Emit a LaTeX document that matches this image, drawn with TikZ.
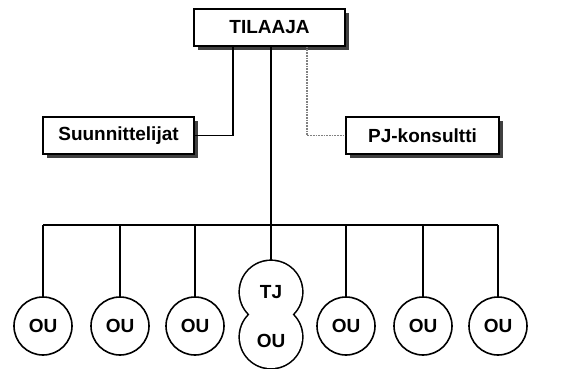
\documentclass[tikz,border=0pt]{standalone}
\usepackage{fontspec}
\setmainfont{Liberation Sans}
\usetikzlibrary{shadows}

\begin{document}
\begin{tikzpicture}[x=1pt,y=-1pt]
\tikzstyle{orgbox} = [rectangle, draw, line width = 1.6pt, fill = white, minimum width = 151pt, minimum height = 37pt, inner sep = 0pt, font = \fontsize{19}{22}\selectfont\bfseries, drop shadow = {shadow xshift = 4pt, shadow yshift = -4pt, fill = black!75, opacity = 1}]
\tikzstyle{ou} = [circle, draw, line width = 1.6pt, fill = white, minimum size = 58pt, inner sep = 0pt, font = \fontsize{19}{22}\selectfont\bfseries]
\tikzstyle{tjtext} = [inner sep = 0pt, font = \fontsize{19}{22}\selectfont\bfseries]
\tikzset{link/.style = {line width = 1.6pt}, loose/.style = {densely dotted, black!50, line width = 1.7pt}}
\useasboundingbox (0,0) rectangle (570,369);

\node [orgbox] (tilaaja) at (269.5,27.5) {TILAAJA};
\node [orgbox] (suunn) at (118.5,135.5) {Suunnittelijat};
\node [orgbox, minimum width = 153pt] (pjkons) at (422.5,135.5) {PJ-konsultti};

% TJ and OU as one blob
\coordinate (tjc) at (271,292);
\coordinate (tjouc) at (271,337);
\coordinate (tjtop) at (271,261);
\draw [line width = 3.2pt] (tjc) circle (31) (tjouc) circle (31);
\fill [white] (tjc) circle (31) (tjouc) circle (31);
\node [tjtext] (tj) at (tjc) {TJ};
\node [tjtext] (tjou) at (271,341) {OU};

\foreach \name/\x in {ou1/43, ou2/120, ou3/195, ou5/346, ou6/423, ou7/498}
  \node [ou] (\name) at (\x,326) {OU};

\coordinate (busl) at (ou1 |- 0,225);
\coordinate (busr) at (ou7 |- 0,225);
\draw [link] (busl) -- (busr);
\foreach \name in {ou1, ou2, ou3, ou5, ou6, ou7}
  \draw [link] (\name |- busl) -- (\name.north);
\draw [link] (tilaaja.south -| tjtop) -- (tjtop);

\draw [link] (tilaaja.south -| 233,0) |- (suunn.east);
\draw [loose] (tilaaja.south -| 307,0) |- (pjkons.west);

\end{tikzpicture}
\end{document}
